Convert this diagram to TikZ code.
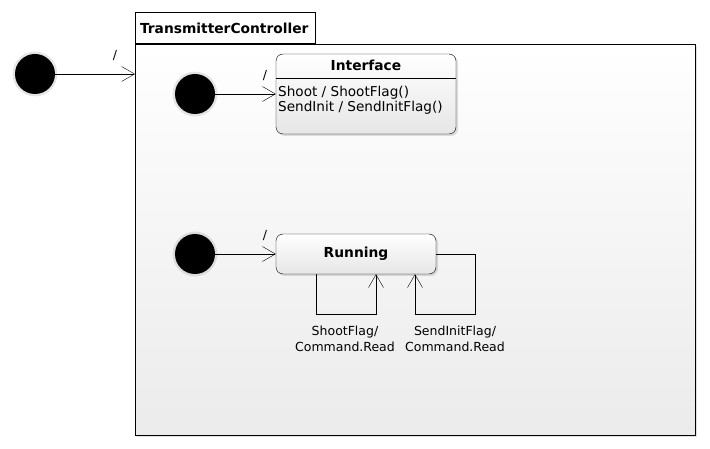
\documentclass[tikz,border=0pt]{standalone}
\usepackage{fontspec}
\setmainfont{DejaVu Sans}
\usetikzlibrary{positioning,arrows.meta,shadows}
\definecolor{pkgbot}{HTML}{EBEBEB}
\definecolor{statebot}{HTML}{E6E6E6}
\tikzset{
pkgbody/.style={
draw,
top color=white,
bottom color=pkgbot,
minimum width=560pt,
minimum height=391pt,
inner sep=0pt,
drop shadow={shadow xshift=2pt,shadow yshift=-2pt,opacity=0.25}
},
pkgtab/.style={
draw,
fill=white,
minimum width=180pt,
minimum height=31pt,
text width=170pt,
inner sep=5pt,
align=left,
font=\fontsize{13.8}{15}\selectfont\bfseries
},
startdot/.style={
circle,
fill=black,
minimum size=40pt,
inner sep=0pt,
drop shadow={shadow xshift=0pt,shadow yshift=0pt,shadow scale=1.12,opacity=0.2}
},
statebox/.style={
draw,
rounded corners=7pt,
top color=white,
bottom color=statebot,
inner sep=0pt,
drop shadow={shadow xshift=2pt,shadow yshift=-2pt,opacity=0.25}
},
title/.style={
font=\fontsize{13.8}{15}\selectfont\bfseries
},
lbl/.style={
font=\fontsize{12.5}{15.5}\selectfont,
align=center
},
body/.style={
font=\fontsize{13.6}{15}\selectfont,
align=left
},
trans/.style={
-{Straight Barb[length=13pt,width=15pt]},
thin
}
}

\begin{document}
\begin{tikzpicture}[x=1pt,y=-1pt]
\useasboundingbox[fill=white] (0,0) rectangle (710,449);
\node[pkgbody](pkg) at (415,239.5){};
\node[pkgtab,anchor=south west](tab) at (pkg.north west){TransmitterController};

\node[startdot](s0) at (35,74){};
\node[startdot](s1) at (195,94){};
\node[startdot](s2) at (195,254){};

% states
\node[statebox,minimum width=180pt,minimum height=80pt](iface) at (366,94){};
\node[title,below=3pt of iface.north](ifacetitle){Interface};
\draw ([yshift=-24pt]iface.north west) -- ([yshift=-24pt]iface.north east);
\node[body,anchor=north west,inner sep=0pt](ifacebody) at (278,86)
{Shoot / ShootFlag()\\SendInit / SendInitFlag()};

\node[statebox,title,minimum width=160pt,minimum height=40pt](run) at (356,254){Running};

% transitions
\coordinate (pkgin) at (135,74);
\draw[trans](s0)--(pkgin) node[lbl,pos=0.75,above=10pt]{/};
\draw[trans](s1)--(s1-|iface.west) node[lbl,pos=0.82,above=10pt]{/};
\draw[trans](s2)--(run) node[lbl,pos=0.82,above=10pt]{/};

\draw[trans]([xshift=-40pt]run.south) -- ++(0,40) -| ([xshift=20pt]run.south);
\draw[trans](run.east) -| ++(39,60) -| ([xshift=59pt]run.south);

\node[lbl](lshoot) at (345,339){ShootFlag/\\Command.Read};
\node[lbl](linit) at (455,339){SendInitFlag/\\Command.Read};
\end{tikzpicture}
\end{document}
